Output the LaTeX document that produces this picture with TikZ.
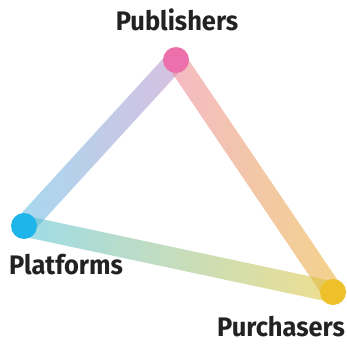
\documentclass[tikz,border=0pt]{standalone}
\usepackage{fontspec}
\newfontfamily\labelfont[FakeStretch=0.95]{Fira Sans}
\usetikzlibrary{calc,backgrounds}

\definecolor{pubpink}{HTML}{EC70AC}
\definecolor{platblue}{HTML}{1DB5EA}
\definecolor{purchyellow}{HTML}{EEC02A}
\definecolor{textgray}{HTML}{222222}
\definecolor{bandblue}{RGB}{91,186,226}
\definecolor{bandpurple}{RGB}{186,139,200}
\definecolor{bandpink}{RGB}{235,130,151}
\definecolor{bandorange}{RGB}{233,175,42}
\definecolor{bandcyan}{RGB}{77,191,213}
\definecolor{bandlime}{RGB}{225,195,50}

\begin{document}
\begin{tikzpicture}[x=1pt,y=1pt,
  dot/.style={circle,inner sep=0pt,minimum size=26pt},
  tag/.style={anchor=base,inner sep=0pt,text=textgray,
    font=\labelfont\bfseries\fontsize{26.8}{30}\selectfont},
  band/.style={fill opacity=0.55,to path={
    ($(\tikztostart)!10.5pt!90:(\tikztotarget)$) -- ($(\tikztostart)!10.5pt!-90:(\tikztotarget)$)
    -- ($(\tikztotarget)!10.5pt!90:(\tikztostart)$) -- ($(\tikztotarget)!10.5pt!-90:(\tikztostart)$)
    -- cycle}}]

  \useasboundingbox (0,0) rectangle (347,343);

  \node[dot, fill=pubpink]     (pub)   at (176,283) {};
  \node[dot, fill=platblue]    (plat)  at (24,117)  {};
  \node[dot, fill=purchyellow] (purch) at (333,51)  {};

  \node[tag] (pubtext)   at (177,312) {Publishers};
  \node[tag] (plattext)  at (66,69)   {Platforms};
  \node[tag] (purchtext) at (281,7)   {Purchasers};

  \begin{scope}[on background layer]
    \path[band, left color=bandblue, right color=bandpurple] (plat) to (pub);
    \path[band, left color=bandpink, right color=bandorange] (pub) to (purch);
    \path[band, left color=bandcyan, right color=bandlime]   (plat) to (purch);
  \end{scope}
\end{tikzpicture}
\end{document}
